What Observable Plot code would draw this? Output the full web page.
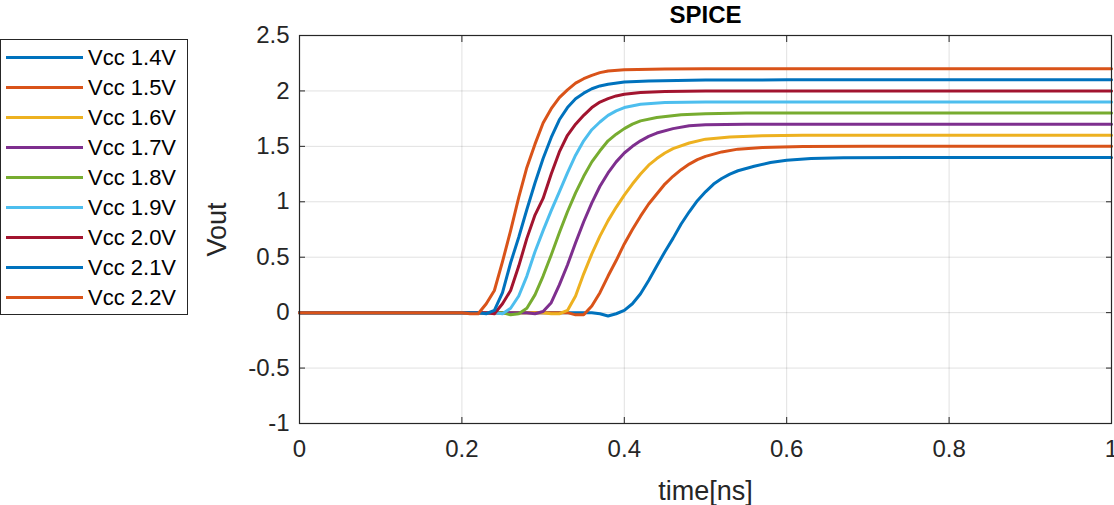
<!DOCTYPE html>
<html>
<head>
<meta charset="utf-8">
<script src="https://cdn.jsdelivr.net/npm/d3@7"></script>
<script src="https://cdn.jsdelivr.net/npm/@observablehq/plot@0.6"></script>
<style>
  html, body { margin: 0; padding: 0; background: #fff; }
  body { width: 1114px; height: 505px; position: relative; overflow: hidden; font-family: "Liberation Sans", Arial, sans-serif; }
  #chart { position: absolute; left: 0; top: 0; }
  #chart svg { overflow: visible; }
  #legend { position: absolute; left: 0; top: 39px; width: 188px; height: 276px; border: 1px solid #262626; background: #fff; box-sizing: border-box; }
  .item { position: absolute; left: 0; height: 30px; width: 186px; }
  .item .sw { position: absolute; left: 5px; width: 77px; height: 3px; top: 13px; }
  .item .lb { position: absolute; left: 87px; top: 2px; font-size: 22px; color: #000; white-space: nowrap; line-height: 26px; }
</style>
</head>
<body>
<div id="chart"></div>
<div id="legend"></div>
<script>
// ---- data ----
const title = "SPICE";
const xLabel = "time[ns]";
const yLabel = "Vout";
const xTicks = [0, 0.2, 0.4, 0.6, 0.8, 1];
const yTicks = [-1, -0.5, 0, 0.5, 1, 1.5, 2, 2.5];
const seriesNames = ["Vcc 1.4V", "Vcc 1.5V", "Vcc 1.6V", "Vcc 1.7V", "Vcc 1.8V", "Vcc 1.9V", "Vcc 2.0V", "Vcc 2.1V", "Vcc 2.2V"];
const seriesColors = ["#0072BD", "#D95319", "#EDB120", "#7E2F8E", "#77AC30", "#4DBEEE", "#A2142F", "#0072BD", "#D95319"];

// [time ns, Vout]
const vcc14 = [[0,0],[0.2,0],[0.36,0],[0.37,-0.01],[0.38,-0.03],[0.39,-0.01],[0.40,0.02],[0.41,0.08],[0.42,0.17],[0.43,0.29],[0.44,0.42],[0.45,0.55],[0.46,0.67],[0.47,0.80],[0.48,0.91],[0.49,1.01],[0.50,1.09],[0.51,1.16],[0.52,1.21],[0.53,1.25],[0.54,1.28],[0.56,1.32],[0.58,1.355],[0.60,1.375],[0.63,1.39],[0.67,1.397],[0.75,1.4],[1,1.4]];
const vcc15 = [[0,0],[0.2,0],[0.33,0],[0.34,-0.02],[0.35,-0.02],[0.36,0.06],[0.37,0.18],[0.38,0.33],[0.39,0.47],[0.40,0.62],[0.41,0.75],[0.42,0.87],[0.43,0.98],[0.44,1.07],[0.45,1.16],[0.46,1.23],[0.47,1.29],[0.48,1.34],[0.49,1.38],[0.50,1.41],[0.52,1.45],[0.54,1.475],[0.57,1.49],[0.62,1.498],[0.7,1.5],[1,1.5]];
const vcc16 = [[0,0],[0.2,0],[0.30,0],[0.31,-0.01],[0.32,-0.01],[0.33,0.02],[0.34,0.15],[0.35,0.35],[0.36,0.53],[0.37,0.69],[0.38,0.83],[0.39,0.95],[0.40,1.06],[0.41,1.16],[0.42,1.25],[0.43,1.33],[0.44,1.39],[0.45,1.44],[0.46,1.48],[0.48,1.53],[0.50,1.565],[0.53,1.585],[0.57,1.595],[0.62,1.6],[1,1.6]];
const vcc17 = [[0,0],[0.2,0],[0.28,0],[0.29,-0.01],[0.30,0.01],[0.31,0.09],[0.32,0.25],[0.33,0.43],[0.34,0.63],[0.35,0.82],[0.36,0.99],[0.37,1.14],[0.38,1.26],[0.39,1.36],[0.40,1.44],[0.41,1.50],[0.42,1.55],[0.43,1.59],[0.44,1.62],[0.46,1.66],[0.48,1.685],[0.50,1.695],[0.55,1.7],[1,1.7]];
const vcc18 = [[0,0],[0.2,0],[0.25,0],[0.26,-0.02],[0.27,-0.01],[0.28,0.04],[0.29,0.16],[0.30,0.33],[0.31,0.52],[0.32,0.72],[0.33,0.91],[0.34,1.08],[0.35,1.23],[0.36,1.36],[0.37,1.46],[0.38,1.55],[0.39,1.61],[0.40,1.66],[0.41,1.70],[0.42,1.73],[0.44,1.76],[0.47,1.785],[0.50,1.795],[0.55,1.8],[1,1.8]];
const vcc19 = [[0,0],[0.2,0],[0.24,0],[0.25,-0.01],[0.26,0.04],[0.27,0.15],[0.28,0.33],[0.29,0.55],[0.30,0.74],[0.31,0.92],[0.32,1.09],[0.33,1.26],[0.34,1.42],[0.35,1.55],[0.36,1.65],[0.37,1.72],[0.38,1.78],[0.39,1.82],[0.40,1.85],[0.42,1.88],[0.45,1.895],[0.50,1.9],[1,1.9]];
const vcc20 = [[0,0],[0.2,0],[0.23,0],[0.24,-0.01],[0.25,0.08],[0.26,0.20],[0.27,0.42],[0.28,0.67],[0.29,0.88],[0.30,1.03],[0.31,1.25],[0.32,1.45],[0.33,1.60],[0.34,1.70],[0.35,1.78],[0.36,1.85],[0.37,1.90],[0.38,1.93],[0.39,1.955],[0.40,1.97],[0.42,1.985],[0.45,1.995],[0.50,2.0],[1,2.0]];
const vcc21 = [[0,0],[0.2,0],[0.22,0],[0.23,-0.01],[0.24,0.02],[0.25,0.18],[0.26,0.45],[0.27,0.68],[0.28,0.93],[0.29,1.17],[0.30,1.39],[0.31,1.58],[0.32,1.74],[0.33,1.85],[0.34,1.93],[0.35,1.98],[0.36,2.02],[0.37,2.045],[0.38,2.06],[0.40,2.08],[0.43,2.09],[0.50,2.098],[0.60,2.1],[1,2.1]];
const vcc22 = [[0,0],[0.2,0],[0.21,-0.01],[0.22,-0.01],[0.23,0.08],[0.24,0.20],[0.25,0.46],[0.26,0.74],[0.27,1.04],[0.28,1.31],[0.29,1.52],[0.30,1.71],[0.31,1.84],[0.32,1.94],[0.33,2.01],[0.34,2.07],[0.35,2.11],[0.36,2.14],[0.37,2.165],[0.38,2.18],[0.40,2.19],[0.45,2.198],[0.50,2.2],[1,2.2]];
const seriesValues = [vcc14, vcc15, vcc16, vcc17, vcc18, vcc19, vcc20, vcc21, vcc22];

// ---- build table ----
const rows = [];
seriesValues.forEach((arr, i) => arr.forEach(([t, v]) => rows.push({series: i, t, v})));

const axisColor = "#262626";
const chart = Plot.plot({
  width: 1114,
  height: 505,
  marginLeft: 299,
  marginRight: 3,
  marginTop: 35,
  marginBottom: 82,
  style: {fontFamily: "'Liberation Sans', Arial, sans-serif", fontSize: "24px", color: axisColor, background: "#fff", overflow: "visible"},
  x: {domain: [0, 1]},
  y: {domain: [-1, 2.5]},
  marks: [
    Plot.gridX(xTicks, {stroke: "#000", strokeOpacity: 0.12}),
    Plot.gridY(yTicks, {stroke: "#000", strokeOpacity: 0.12}),
    Plot.axisX(xTicks, {anchor: "bottom", tickSize: 0, tickPadding: 16, tickFormat: d => String(d), label: null, fontSize: 24, color: axisColor}),
    Plot.axisY(yTicks, {anchor: "left", tickSize: 0, tickPadding: 10, tickFormat: d => String(d), label: null, fontSize: 24, color: axisColor}),
    Plot.axisX({anchor: "bottom", ticks: [], label: xLabel, labelAnchor: "center", labelArrow: "none", labelOffset: 76, fontSize: 27, color: axisColor}),
    Plot.axisY({anchor: "left", ticks: [], label: yLabel, labelAnchor: "center", labelArrow: "none", labelOffset: 93, fontSize: 27, color: axisColor}),
    Plot.axisX(xTicks, {anchor: "bottom", tickSize: -6, text: null, label: null, stroke: axisColor}),
    Plot.axisX(xTicks, {anchor: "top", tickSize: -6, text: null, label: null, stroke: axisColor}),
    Plot.axisY(yTicks, {anchor: "left", tickSize: -6, text: null, label: null, stroke: axisColor}),
    Plot.axisY(yTicks, {anchor: "right", tickSize: -6, text: null, label: null, stroke: axisColor}),
    Plot.line(rows, {x: "t", y: "v", z: "series", stroke: d => seriesColors[d.series], strokeWidth: 3, strokeLinejoin: "round"}),
    Plot.frame({stroke: axisColor, strokeWidth: 1.2}),
    Plot.text([title], {frameAnchor: "top", lineAnchor: "middle", dy: -20, fontWeight: "bold", fontSize: 24, fill: "#000"})
  ]
});
document.getElementById("chart").appendChild(chart);

// ---- legend ----
const legend = document.getElementById("legend");
seriesNames.forEach((name, i) => {
  const item = document.createElement("div");
  item.className = "item";
  item.style.top = (3 + 30 * i) + "px";
  item.innerHTML = `<div class="sw" style="background:${seriesColors[i]}"></div><div class="lb">${name}</div>`;
  legend.appendChild(item);
});
</script>
</body>
</html>
